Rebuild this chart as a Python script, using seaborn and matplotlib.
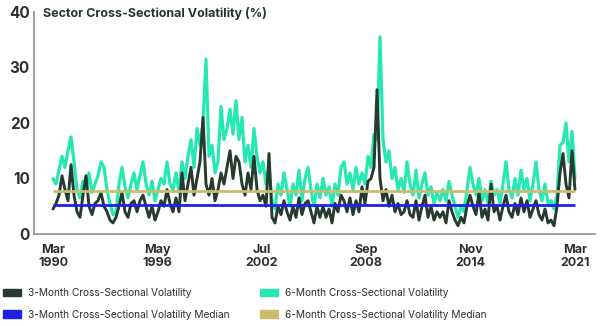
import numpy as np
import pandas as pd
import matplotlib
matplotlib.use("Agg")
import matplotlib.pyplot as plt
from matplotlib.patches import Patch
import seaborn as sns

# ---- data (~every 2 months, Mar 1990 -> Mar 2021) ----
vol_6m = [
    10, 9, 11.5, 14, 12, 15, 17.5, 13, 8, 6.5,
    9.5, 8, 11, 7.5, 9, 10.5, 13, 12, 8, 5.5,
    3.5, 4, 9, 12, 8.5, 6.5, 9, 11, 8, 10.5,
    13, 9, 7, 9.5, 6, 8, 10, 9, 13, 9,
    8, 11, 7.5, 13, 10, 14, 17, 12, 19, 16,
    20, 31.5, 14, 16, 11, 13, 23, 17, 19, 22.5,
    18, 24, 17, 21, 13, 16, 12, 19, 14, 11,
    13, 9, 12, 6, 4.5, 9, 7, 11, 8, 5,
    9, 7, 11.5, 6, 10, 12, 8, 5, 9, 6.5,
    10, 7, 8.5, 5, 9, 7, 12, 13, 9, 11,
    8, 12, 9, 11, 9, 14, 12, 18, 17, 35.5,
    17, 13, 15, 10, 12, 8, 10, 7.5, 13, 9,
    7, 11.5, 6.5, 9, 11, 7, 8.5, 5.5, 7.5, 6,
    8, 6, 9.5, 7, 5, 3, 5, 4, 8, 12,
    9, 7, 10, 6, 8, 5.5, 9.5, 7, 8, 5.5,
    9, 13, 8, 6.5, 10, 7, 11.5, 8, 10, 6,
    9, 13, 8, 6, 9, 5.5, 6, 4.5, 7, 16,
    16.5, 20, 13, 18.5, 10,
]
vol_3m = [
    4.5, 5.5, 7, 10.5, 8, 6, 12.5, 7, 4, 3,
    7, 10.5, 5, 3.5, 5.5, 6, 7.5, 5, 4, 2.5,
    2, 3, 5, 7.5, 4, 3, 5.5, 6, 4, 6,
    7, 5, 3, 5, 2.5, 4, 6, 5, 8, 5.5,
    4, 6.5, 4, 11, 6, 9, 12, 7, 10, 13,
    21, 9, 7, 10, 6, 8, 11, 9, 12, 15,
    10, 14, 13, 9, 7, 11, 8, 14, 8, 6,
    7, 5, 14.5, 3, 2, 5, 3.5, 6, 4, 2.5,
    5, 3, 6.5, 3.5, 5.5, 6, 4, 2, 5, 3,
    5, 3, 4.5, 2, 5.5, 4, 7, 6, 4, 6.5,
    3.5, 6, 4, 8.5, 5.5, 9.5, 10, 12, 26, 10,
    6, 8, 5, 7, 4, 5.5, 3.5, 4, 6, 3.5,
    3, 6, 2.5, 5, 7, 3, 5, 2.5, 4, 3,
    4, 2, 6, 4, 2.5, 1.5, 3, 2, 5, 7,
    5, 3.5, 7.5, 3, 4.5, 2.5, 9, 4, 5, 2.5,
    5, 7, 4, 3, 5.5, 3.5, 6.5, 4, 6, 3,
    4.5, 6, 3.5, 2.5, 4.5, 2, 2.5, 1.5, 5, 11,
    14.5, 9, 6.5, 15, 8,
]
median_3m = 5.3
median_6m = 7.8
tick_labels = ["Mar\n1990", "May\n1996", "Jul\n2002", "Sep\n2008", "Nov\n2014", "Mar\n2021"]
legend_labels = [
    "3-Month Cross-Sectional Volatility",
    "3-Month Cross-Sectional Volatility Median",
    "6-Month Cross-Sectional Volatility",
    "6-Month Cross-Sectional Volatility Median",
]
title = "Sector Cross-Sectional Volatility (%)"

# ---- styling ----
C_3M = "#263a2f"
C_6M = "#26e8b2"
C_MED3 = "#2121e6"
C_MED6 = "#c9bd6c"
C_AXIS = "#8a8f8c"
C_TEXT = "#2b2f2d"

sns.set_style("white")
plt.rcParams["font.family"] = ["Inter", "DejaVu Sans"]

n = len(vol_6m)
df = pd.DataFrame({"idx": np.arange(n), "v6": vol_6m, "v3": vol_3m})

fig = plt.figure(figsize=(6.0, 3.26), dpi=100)
ax = fig.add_axes([34 / 600, 1 - 234 / 326, 561 / 600, 222 / 326])

sns.lineplot(data=df, x="idx", y="v6", color=C_6M, lw=2.3, ax=ax)
sns.lineplot(data=df, x="idx", y="v3", color=C_3M, lw=2.1, ax=ax)
ax.hlines(median_6m, 0, n - 1, color=C_MED6, lw=2.0, zorder=5)
ax.hlines(median_3m, 0, n - 1, color=C_MED3, lw=2.0, zorder=5)

step = 3.0
ax.set_xlim((34 - 53) / step, (595 - 53) / step)
ax.set_ylim(0, 40)
ax.set_xticks(np.linspace(0, n - 1, len(tick_labels)))
ax.set_xticklabels(tick_labels, fontsize=9, fontweight="bold", color=C_TEXT, linespacing=1.1)
ax.set_yticks([0, 10, 20, 30, 40])
ax.set_yticklabels(["0", "10", "20", "30", "40"], fontsize=11, fontweight="bold", color=C_TEXT)
ax.tick_params(axis="both", which="both", length=3, width=0.8, color=C_AXIS, direction="out")
ax.tick_params(axis="x", pad=4)
ax.tick_params(axis="y", length=2, pad=1)
ax.set_xlabel("")
ax.set_ylabel("")
for s in ["top", "right"]:
    ax.spines[s].set_visible(False)
for s in ["left", "bottom"]:
    ax.spines[s].set_color(C_AXIS)
    ax.spines[s].set_linewidth(1.2)

fig.text(43 / 600, 1 - 14 / 326, title, fontsize=9.0, fontweight="bold", color="#1e3a2c",
         va="center", ha="left")

h_left = [Patch(color=C_3M), Patch(color=C_MED3)]
h_right = [Patch(color=C_6M), Patch(color=C_MED6)]
common = dict(frameon=False, fontsize=7.3, handlelength=1.75, handleheight=0.8,
              handletextpad=0.7, labelspacing=1.15, borderaxespad=0, borderpad=0,
              labelcolor=C_TEXT)
leg1 = fig.legend(h_left, [legend_labels[0], legend_labels[1]], loc="upper left",
                  bbox_to_anchor=(3 / 600, 1 - 288 / 326), **common)
leg2 = fig.legend(h_right, [legend_labels[2], legend_labels[3]], loc="upper left",
                  bbox_to_anchor=(260 / 600, 1 - 288 / 326), **common)

fig.savefig("out.png", dpi=100, facecolor="white")
